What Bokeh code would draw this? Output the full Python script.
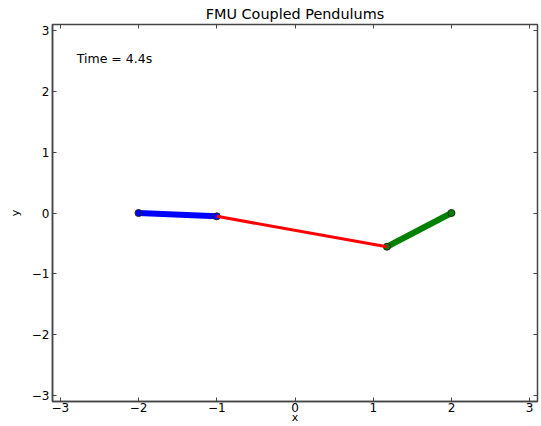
from bokeh.plotting import figure
from bokeh.models import Range1d, LinearAxis, FixedTicker, Label
from bokeh.embed import file_html
from bokeh.resources import INLINE

# ---- data ----
pivot1 = [-2.0, 0.0]
bob1 = [-1.0, -0.055]
pivot2 = [2.0, 0.0]
bob2 = [1.175, -0.555]
time_s = 4.4

tick_values = [-3, -2, -1, 0, 1, 2, 3]
tick_labels = ["\u22123", "\u22122", "\u22121", "0", "1", "2", "3"]
x_limits = [-3.1, 3.1]
y_limits = [-3.1, 3.1]

FONT = "DejaVu Sans"

p = figure(width=541, height=426,
           x_range=Range1d(*x_limits), y_range=Range1d(*y_limits),
           output_backend="svg", toolbar_location=None,
           title="FMU Coupled Pendulums",
           x_axis_label="x", y_axis_label="y",
           min_border_left=52, min_border_right=4,
           min_border_top=0, min_border_bottom=0)

p.grid.visible = False
p.outline_line_color = "#444444"
p.outline_line_width = 1.5
p.background_fill_color = "white"
p.border_fill_color = "white"

p.title.align = "center"
p.title.text_font = FONT
p.title.text_font_size = "14.4px"
p.title.text_font_style = "normal"
p.title.text_color = "black"
p.title.standoff = 6

overrides = {v: l for v, l in zip(tick_values, tick_labels)}

def style_axis(ax, show_labels=True):
    ax.ticker = FixedTicker(ticks=tick_values)
    ax.major_tick_in = 4
    ax.major_tick_out = 0
    ax.minor_tick_line_color = None
    ax.major_tick_line_color = "#444444"
    ax.axis_line_color = "#444444"
    ax.axis_line_width = 1.5
    if show_labels:
        ax.major_label_overrides = overrides
        ax.major_label_text_font = FONT
        ax.major_label_text_font_size = "12px"
        ax.major_label_text_color = "black"
        ax.major_label_standoff = 3
        ax.axis_label_text_font = FONT
        ax.axis_label_text_font_size = "11px"
        ax.axis_label_text_font_style = "normal"
        ax.axis_label_text_color = "black"
    else:
        ax.major_label_text_font_size = "0px"
        ax.major_label_text_color = None
        ax.major_label_standoff = 0
        ax.axis_line_color = None

for ax in p.xaxis + p.yaxis:
    style_axis(ax)
p.xaxis.axis_label_standoff = -4
p.xaxis.major_label_standoff = 1
p.yaxis.axis_label_standoff = 7

top_ax = LinearAxis()
style_axis(top_ax, show_labels=False)
p.add_layout(top_ax, "above")
right_ax = LinearAxis()
style_axis(right_ax, show_labels=False)
p.add_layout(right_ax, "right")

# pendulum 1 (blue)
p.line([pivot1[0], bob1[0]], [pivot1[1], bob1[1]], line_color="#0000ff", line_width=6)
p.scatter([pivot1[0], bob1[0]], [pivot1[1], bob1[1]], size=7,
          fill_color="#0000ff", line_color="#222222", line_width=1)
# pendulum 2 (green)
p.line([pivot2[0], bob2[0]], [pivot2[1], bob2[1]], line_color="#008000", line_width=6)
p.scatter([pivot2[0], bob2[0]], [pivot2[1], bob2[1]], size=7,
          fill_color="#008000", line_color="#222222", line_width=1)
# spring (red)
p.line([bob1[0], bob2[0]], [bob1[1], bob2[1]], line_color="#ff0000", line_width=3)

# time label at axes fraction (0.05, 0.9)
tx = x_limits[0] + 0.05 * (x_limits[1] - x_limits[0])
ty = y_limits[0] + 0.9 * (y_limits[1] - y_limits[0])
p.add_layout(Label(x=tx, y=ty, y_offset=4, text="Time = %.1fs" % time_s,
                   text_font=FONT, text_font_size="12.5px",
                   text_color="black", text_baseline="alphabetic"))

open("out.html", "w").write(file_html(p, INLINE))
